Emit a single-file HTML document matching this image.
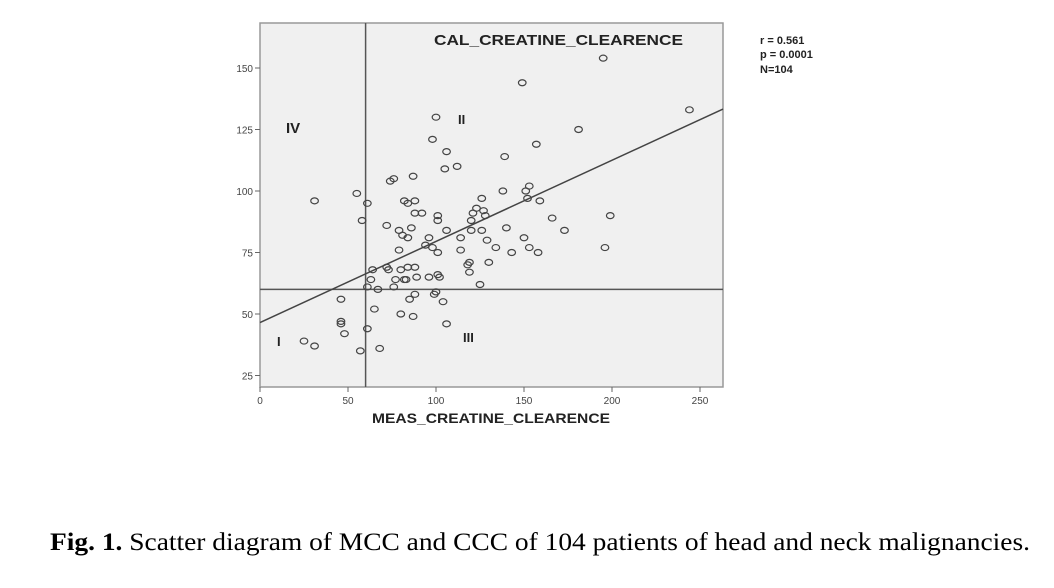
<!DOCTYPE html>
<html><head><meta charset="utf-8"><style>
body{margin:0;background:#fff;width:1054px;height:583px;overflow:hidden}
svg text{font-family:"Liberation Sans",Arial,sans-serif}
</style></head><body>
<svg id="chart" width="1054" height="583">
<rect x="260" y="23" width="463" height="364" fill="#f0f0f0" stroke="#999" stroke-width="1.5"/>
<g id="marks"></g>
<text x="434" y="45" font-size="15" font-weight="bold" fill="#222" textLength="249" lengthAdjust="spacingAndGlyphs">CAL_CREATINE_CLEARENCE</text>
<text x="372" y="423" font-size="14" font-weight="bold" fill="#222" textLength="238" lengthAdjust="spacingAndGlyphs">MEAS_CREATINE_CLEARENCE</text>
<text x="286" y="133" font-size="15" font-weight="bold" fill="#222">IV</text>
<text x="458" y="124" font-size="13" font-weight="bold" fill="#222">II</text>
<text x="277" y="346" font-size="13" font-weight="bold" fill="#222">I</text>
<text x="463" y="342" font-size="13" font-weight="bold" fill="#222">III</text>
<g font-size="11" font-weight="bold" fill="#222">
<text x="760" y="44">r = 0.561</text><text x="760" y="58">p = 0.0001</text><text x="760" y="73">N=104</text>
</g>
<text x="50" y="550" font-size="25" textLength="980" lengthAdjust="spacingAndGlyphs" style="font-family:'Liberation Serif',serif" fill="#000"><tspan font-weight="bold">Fig. 1.</tspan> Scatter diagram of MCC and CCC of 104 patients of head and neck malignancies.</text>
</svg>
<script>
const xTicks=[0,50,100,150,200,250];
const yTicks=[25,50,75,100,125,150];
const xVals=[195,149,244,100,98,181,157,106,139,105,112,74,76,87,31,55,61,82,84,88,88,92,101,126,123,127,121,138,151,153,152,159,166,199,120,101,58,128,
72,79,81,84,86,96,94,98,101,106,114,120,126,129,134,140,150,153,158,173,196,143,114,130,118,119,119,125,79,72,73,80,84,88,77,83,82,89,96,101,102,64,63,61,67,76,100,99,88,85,104,46,65,80,87,106,46,46,48,61,25,31,57,68];
const yVals=[154,144,133,130,121,125,119,116,114,109,110,104,105,106,96,99,95,96,95,96,91,91,90,97,93,92,91,100,100,102,97,96,89,90,88,88,88,90,
86,84,82,81,85,81,78,77,75,84,81,84,84,80,77,85,81,77,75,84,77,75,76,71,70,71,67,62,76,69,68,68,69,69,64,64,64,65,65,66,65,68,64,61,60,61,59,58,58,56,55,56,52,50,49,46,47,46,42,44,39,37,35,36];
const fitIntercept=46.5, fitSlope=0.33, cutX=60, cutY=60;
const X0=260,X1=723,Y0=23,Y1=387;
const sx=v=>260+v*1.76;
const sy=v=>191-(v-100)*2.46;
const NS="http://www.w3.org/2000/svg";
const g=document.getElementById('marks');
function mk(t,a){const e=document.createElementNS(NS,t);for(const k in a)e.setAttribute(k,a[k]);g.appendChild(e);return e;}
xTicks.forEach(t=>{
 const l=mk('line',{x1:sx(t),x2:sx(t),y1:Y1,y2:Y1+5,stroke:'#666'});
 
 
 const tx=mk('text',{x:sx(t),y:Y1+17,'font-size':10,'text-anchor':'middle',fill:'#444'});tx.textContent=t;
 
 
});
yTicks.forEach(t=>{
 const l=mk('line',{x1:X0-5,x2:X0,y1:sy(t),y2:sy(t),stroke:'#666'});
 
 
 const tx=mk('text',{x:X0-7,y:sy(t)+4,'font-size':10,'text-anchor':'end',fill:'#444'});tx.textContent=t;
 
 
});
const vx=mk('line',{x1:sx(cutX),x2:sx(cutX),y1:Y0,y2:Y1,stroke:'#555','stroke-width':1.5});


const hy=mk('line',{x1:X0,x2:X1,y1:sy(cutY),y2:sy(cutY),stroke:'#555','stroke-width':1.5});


const xe=(X1-260)/1.76;
const fl=mk('line',{x1:X0,y1:sy(fitIntercept),x2:X1,y2:sy(fitIntercept+fitSlope*xe),stroke:'#444','stroke-width':1.5});


xVals.forEach((v,i)=>{
 const c=mk('ellipse',{cx:sx(v),cy:sy(yVals[i]),rx:3.8,ry:3,fill:'none',stroke:'#444','stroke-width':1.2});
 
 
});
</script>
</body></html>
